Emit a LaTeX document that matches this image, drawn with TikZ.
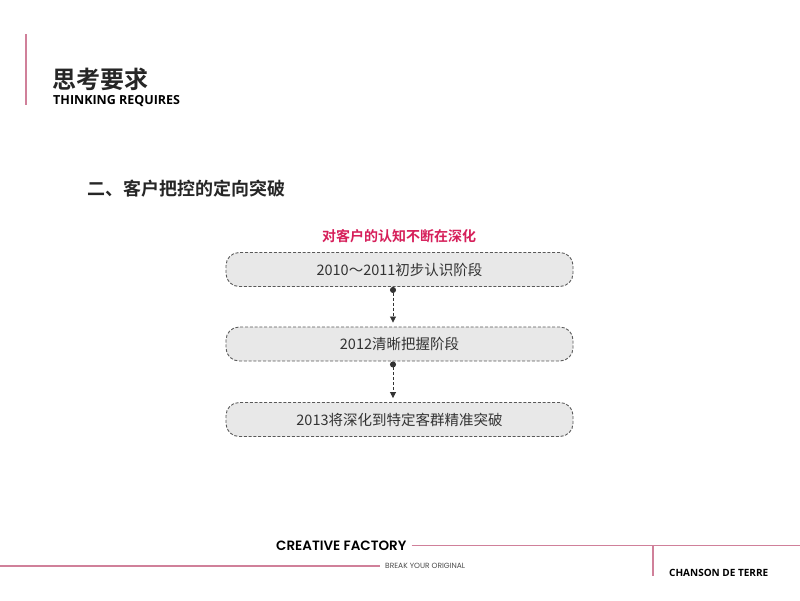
\documentclass[tikz,border=0pt]{standalone}
\usepackage{fontspec}
\setmainfont{Open Sans}
\newfontfamily\cjk{Noto Sans CJK SC}
\newfontfamily\cjkb{Noto Sans CJK SC Bold}
\newfontfamily\geo{Poppins}
\newfontfamily\geob{Poppins SemiBold}
\usetikzlibrary{arrows.meta,positioning}
\definecolor{linepink}{HTML}{D0809A}
\definecolor{capred}{HTML}{D61F5A}
\definecolor{boxgray}{HTML}{E8E8E8}
\definecolor{txtgray}{HTML}{333333}
\tikzset{
  stagebox/.style={draw=black!65, line width=0.9pt, dash pattern=on 3pt off 1.8pt,
    fill=boxgray, rounded corners=13pt,
    minimum width=347pt, minimum height=34pt, text=txtgray,
    font=\cjk\fontsize{14.5}{16}\selectfont},
  link/.style={line width=0.8pt, dash pattern=on 3pt off 2pt, txtgray,
    {Circle[length=6pt]}-{Triangle[length=6pt,width=6pt]}}
}
\begin{document}
\begin{tikzpicture}[x=1pt,y=-1pt]
  \useasboundingbox (0,0) rectangle (800,600);
  % header
  \draw[linepink, line width=1.4pt] (26,34) -- (26,105);
  \node[anchor=west, inner sep=0, font=\cjkb\fontsize{24}{26}\selectfont, black!85] (title) at (52,79) {思考要求};
  \node[anchor=west, inner sep=0, font=\bfseries\fontsize{12.5}{14}\selectfont, black] (subtitle) at (53,101) {THINKING REQUIRES};
  \node[anchor=west, inner sep=0, font=\cjkb\fontsize{18}{20}\selectfont, black!85] (heading) at (87,189) {二、客户把控的定向突破};
  % stages
  \node[inner sep=0, font=\cjkb\fontsize{14}{16}\selectfont, capred] (caption) at (399,236) {对客户的认知不断在深化};
  \node[stagebox] (s1) at (399.5,269.5) {2010～2011初步认识阶段};
  \node[stagebox] (s2) at (399.5,344) {2012清晰把握阶段};
  \node[stagebox] (s3) at (399.5,419.5) {2013将深化到特定客群精准突破};
  \draw[link] (s1.south -| 393,0) -- ([yshift=4pt]s2.north -| 393,0);
  \draw[link] (s2.south -| 393,0) -- ([yshift=4pt]s3.north -| 393,0);
  % footer
  \node[anchor=west, inner sep=0, font=\geob\fontsize{13.5}{16}\selectfont, black] (brand) at (276,545.5) {CREATIVE FACTORY};
  \draw[linepink, line width=1.6pt] (brand.east) ++(5,0) -- (800,545.5);
  \node[anchor=west, inner sep=0, font=\geo\fontsize{7.5}{9}\selectfont, black!70] (slogan) at (385,566) {BREAK YOUR ORIGINAL};
  \draw[linepink, line width=1.6pt] (0,566) -- ([xshift=-5pt]slogan.west);
  \draw[linepink, line width=1.4pt] (653,545.5) -- (653,576);
  \node[anchor=west, inner sep=0, font=\bfseries\fontsize{10}{12}\selectfont, black] (house) at (669,573) {CHANSON DE TERRE};
\end{tikzpicture}
\end{document}
